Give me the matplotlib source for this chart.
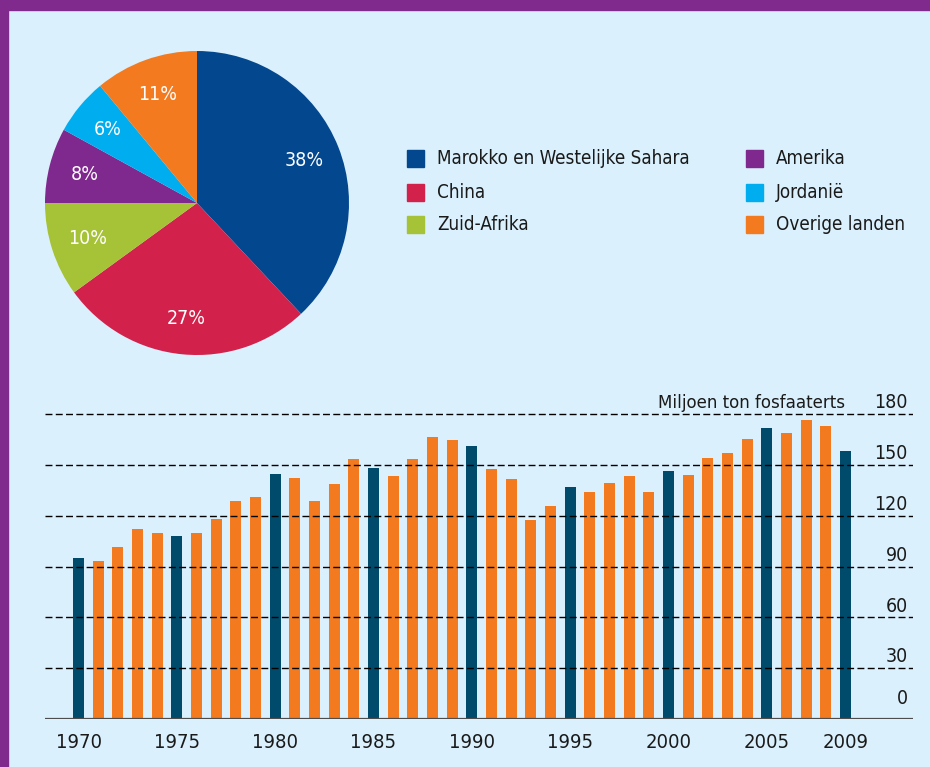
#!/usr/bin/env python3
"""Fosfaaterts: aandeel per land (taart) en wereldproductie 1970-2009 (staven)."""

import matplotlib

matplotlib.use("Agg")
import matplotlib.pyplot as plt
from matplotlib.patches import Rectangle

plt.rcParams["font.family"] = ["DejaVu Sans"]
plt.rcParams["font.stretch"] = "condensed"

# pie data
countries = [
    "Marokko en Westelijke Sahara",
    "China",
    "Zuid-Afrika",
    "Amerika",
    "Jordanië",
    "Overige landen",
]
shares = [38, 27, 10, 8, 6, 11]
pie_colors = ["#03478f", "#d2214a", "#a6c236", "#7f288e", "#00aeef", "#f47a20"]

# bar data (million tonnes)
years = list(range(1970, 2010))
production = [
    95, 93, 101.5, 112, 110, 108, 110, 118, 128.5, 131,
    144.5, 142, 128.5, 138.5, 153.5, 148, 143.5, 153.5, 166.5, 164.5,
    161, 147.5, 141.5, 117.5, 126, 137, 134, 139, 143.5, 134,
    146.5, 144, 154, 157, 165, 172, 169, 176.5, 173, 158,
]
highlight_years = [1970, 1975, 1980, 1985, 1990, 1995, 2000, 2005, 2009]
ytick_values = [0, 30, 60, 90, 120, 150, 180]
xtick_years = [1970, 1975, 1980, 1985, 1990, 1995, 2000, 2005, 2009]

BG = "#daf0fc"
FRAME = "#812a8e"
DARK = "#004b6b"
ORANGE = "#f47a20"
INK = "#1a1a1a"
W, H = 930, 767

fig = plt.figure(figsize=(W / 100, H / 100), dpi=100, facecolor=BG)

# purple frame on top and left
fig.patches.append(Rectangle((0, 1 - 10 / H), 1, 10 / H, transform=fig.transFigure,
                             color=FRAME, zorder=0))
fig.patches.append(Rectangle((0, 0), 8 / W, 1, transform=fig.transFigure,
                             color=FRAME, zorder=0))

# --- pie ---
cx, cy, r = 197, 203, 152
pie_ax = fig.add_axes([(cx - r) / W, 1 - (cy + r) / H, 2 * r / W, 2 * r / H])
pie_ax.pie(
    shares,
    colors=pie_colors,
    startangle=90,
    counterclock=False,
    autopct=lambda p: f"{p:.0f}%",
    pctdistance=0.76,
    radius=1.0,
    textprops={"color": "white", "fontsize": 14},
    wedgeprops={"linewidth": 0},
)
pie_ax.set_xlim(-1, 1)
pie_ax.set_ylim(-1, 1)
pie_ax.set_aspect("equal")

# --- legend, two columns of three ---
col_x = [(407, 437), (746, 776)]
row_y = [158, 192, 225]
sq = 17
for i, (name, color) in enumerate(zip(countries, pie_colors)):
    sx, tx = col_x[i // 3]
    ty = row_y[i % 3]
    fig.patches.append(Rectangle((sx / W, 1 - (ty + sq / 2) / H), sq / W, sq / H,
                                 transform=fig.transFigure, color=color))
    fig.text(tx / W, 1 - ty / H, name, fontsize=13.5, color=INK,
             ha="left", va="center")

# --- bars ---
x_left, x_right = 45, 913
y_base, y_top = 719, 400
px_per_year = (840 + 5.5 - 78.5) / 39
ax = fig.add_axes([x_left / W, 1 - y_base / H, (x_right - x_left) / W, (y_base - y_top) / H])
ax.set_facecolor("none")
ax.set_xlim(1970 - (78.5 - x_left) / px_per_year, 1970 + (x_right - 78.5) / px_per_year)
px_per_unit = (719 - 414) / 180
ax.set_ylim(0, (y_base - y_top) / px_per_unit)

bar_colors = [DARK if y in highlight_years else ORANGE for y in years]
ax.bar(years, production, width=0.56, color=bar_colors, zorder=1)

for v in ytick_values[1:]:
    ax.axhline(v, color="black", lw=1.0, ls=(0, (5, 2.4)), zorder=2)
ax.axhline(0, color="#4d4d4d", lw=1.6, zorder=3)

for v in ytick_values:
    off = 1.0 if v else 6.5
    ax.text(0.994, v + off, str(v), transform=ax.get_yaxis_transform(),
            ha="right", va="bottom", fontsize=14, color=INK)
ax.text((845 - x_left) / (x_right - x_left), 180 + 1.0, "Miljoen ton fosfaaterts",
        transform=ax.get_yaxis_transform(), ha="right", va="bottom",
        fontsize=13.3, color=INK)

ax.set_xticks(xtick_years)
ax.set_xticklabels([str(y) for y in xtick_years], fontsize=14.5, color=INK)
ax.tick_params(axis="x", length=0, pad=10)
ax.set_yticks([])
for spine in ax.spines.values():
    spine.set_visible(False)

fig.savefig("out.png", dpi=100, facecolor=BG)
